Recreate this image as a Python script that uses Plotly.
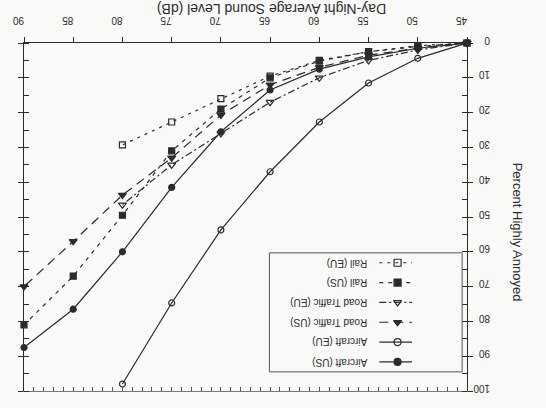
import plotly.graph_objects as go

# ---- data (as seen in the upside-down reference) ----
levels = [45, 50, 55, 60, 65, 70, 75, 80, 85, 90]
aircraft_us = [0, 1.5, 4, 7.5, 13.5, 25.5, 41.5, 60, 76.5, 87.5]
aircraft_eu = [0, 4.4, 11.5, 22.7, 37, 53.7, 74.7, 98]
road_us = [0, 1.5, 3.5, 7, 12, 20.7, 33, 43.7, 57, 70]
road_eu = [0, 2, 5, 10, 17, 26, 35, 46.5]
rail_us = [0, 1, 2.5, 5.2, 10, 19, 31, 49.5, 67, 81]
rail_eu = [0, 0.8, 2.5, 5, 9.5, 16, 22.7, 29.3]

x_ticks = [45, 50, 55, 60, 65, 70, 75, 80, 85, 90]
y_ticks = [0, 10, 20, 30, 40, 50, 60, 70, 80, 90, 100]

series = [
    ("Rail (EU)", rail_eu, "square-open", "3px,5px"),
    ("Rail (US)", rail_us, "square", "4px,5px"),
    ("Road Traffic (EU)", road_eu, "triangle-down-open", "7px,3px,2px,3px"),
    ("Road Traffic (US)", road_us, "triangle-down", "9px,6px"),
    ("Aircraft (EU)", aircraft_eu, "circle-open", "solid"),
    ("Aircraft (US)", aircraft_us, "circle", "solid"),
]

INK = "#2b2b2b"
FONT = "Arial, Liberation Sans, sans-serif"

fig = go.Figure()
for name, vals, sym, dash in series:
    fig.add_trace(go.Scatter(
        x=levels[:len(vals)], y=vals, mode="lines+markers", name=name,
        line=dict(color=INK, width=1.2, dash=dash),
        marker=dict(symbol=sym, size=7 if "triangle" in sym else 6, color=INK,
                    line=dict(color=INK, width=1.2)),
        xaxis="x", yaxis="y", showlegend=False, cliponaxis=False,
    ))

# ---- legend drawn upside down on its own small axes ----
n = len(series)
for i, (name, vals, sym, dash) in enumerate(series):
    yy = 1 - (i + 0.5) / n
    fig.add_trace(go.Scatter(
        x=[0.57, 0.74], y=[yy, yy], mode="lines", xaxis="x3", yaxis="y3",
        line=dict(color=INK, width=1.2, dash=dash), showlegend=False, hoverinfo="skip"))
    fig.add_trace(go.Scatter(
        x=[0.665], y=[yy], mode="markers", xaxis="x3", yaxis="y3",
        marker=dict(symbol=sym, size=7, color=INK, line=dict(color=INK, width=1.2)),
        showlegend=False, hoverinfo="skip"))
    fig.add_annotation(x=0.52, y=yy, xref="x3", yref="y3", text=name, showarrow=False,
                       textangle=180, xanchor="right", yanchor="middle",
                       font=dict(family=FONT, size=10, color=INK))

fig.update_layout(
    width=546, height=408,
    margin=dict(l=21, r=79, t=43, b=17),
    paper_bgcolor="#f9f9f8", plot_bgcolor="#f9f9f8",
    font=dict(family=FONT, color=INK),
    xaxis=dict(range=[90, 45], side="top", showline=True, linecolor=INK, linewidth=1,
               ticks="outside", ticklen=5, tickcolor=INK, tickvals=x_ticks,
               ticktext=[str(v) for v in x_ticks], tickangle=180,
               tickfont=dict(size=10), ticklabelstandoff=6,
               showgrid=False, zeroline=False),
    xaxis2=dict(range=[90, 45], overlaying="x", side="bottom", anchor="y",
                showline=True, linecolor="#777", linewidth=1, ticks="inside",
                ticklen=4, tickcolor="#555", tick0=90, dtick=-3.8,
                showticklabels=False, showgrid=False, zeroline=False),
    yaxis=dict(range=[100, 0], side="right", showline=True, linecolor=INK, linewidth=1.2,
               mirror="allticks", ticks="outside", ticklen=5, tickcolor=INK,
               tickvals=y_ticks, ticktext=[str(v) for v in y_ticks], tickangle=180,
               tickfont=dict(size=10), ticklabelstandoff=15,
               minor=dict(ticks="inside", dtick=5, ticklen=3, tickcolor=INK),
               showgrid=False, zeroline=False),
    xaxis3=dict(domain=[0.554, 0.989], range=[0, 1], visible=False, anchor="y3"),
    yaxis3=dict(domain=[0.055, 0.397], range=[0, 1], visible=False, anchor="x3"),
)

# legend frame
fig.add_shape(type="rect", xref="x3 domain", yref="y3 domain", x0=0, x1=1, y0=0, y1=1,
              line=dict(color="#555", width=1))
# dummy trace for xaxis2
fig.add_trace(go.Scatter(x=[None], y=[None], xaxis="x2", yaxis="y", showlegend=False))

fig.add_annotation(text="Day-Night Average Sound Level (dB)", xref="paper", yref="paper",
                   x=0.56, y=1.125, showarrow=False, textangle=180,
                   font=dict(family=FONT, size=14, color=INK))
fig.add_annotation(text="Percent Highly Annoyed", xref="paper", yref="paper",
                   x=1.135, y=0.457, showarrow=False, textangle=90,
                   font=dict(family=FONT, size=13, color=INK))

fig.write_html("out.html")
